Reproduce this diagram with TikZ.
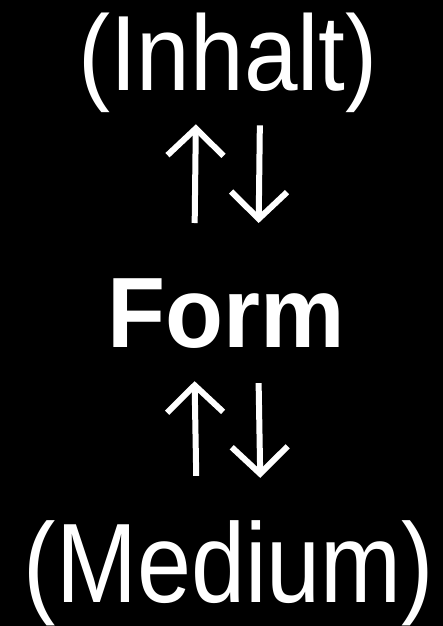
\documentclass[tikz,border=0pt]{standalone}
\usepackage{fontspec}
\setmainfont{Liberation Sans}
\usetikzlibrary{arrows.meta}

\begin{document}
\begin{tikzpicture}[x=1pt,y=-1pt,>={Straight Barb[length=27pt,width=56pt]},
  word/.style={text=white,inner sep=0pt,anchor=base},
  flow/.style={draw=white,line width=6pt,->}]
\fill[black] (0,0) rectangle (443,626);
\useasboundingbox (0,0) rectangle (443,626);
\node[word,font=\fontsize{107}{110}\selectfont,xscale=0.9] (ct_in) at (228,90) {(Inhalt)};
\node[word,font=\fontsize{100}{104}\selectfont\bfseries,xscale=0.95] (ct_form) at (226,347) {Form};
\node[word,font=\fontsize{113}{118}\selectfont,xscale=0.86] (ct_med) at (229,602) {(Medium)};
% Inhalt <-> Form
\draw[flow,shorten <=55pt,shorten >=12pt] ([xshift=-32pt]ct_form.north) -- ([xshift=-32pt]ct_in.south);
\draw[flow,shorten <=13pt,shorten >=55pt] ([xshift=32pt]ct_in.south) -- ([xshift=32pt]ct_form.north);
% Form <-> Medium
\draw[flow,shorten <=44pt,shorten >=33pt] ([xshift=-32pt]ct_med.north) -- ([xshift=-32pt]ct_form.south);
\draw[flow,shorten <=35pt,shorten >=42pt] ([xshift=32pt]ct_form.south) -- ([xshift=32pt]ct_med.north);
\end{tikzpicture}
\end{document}
